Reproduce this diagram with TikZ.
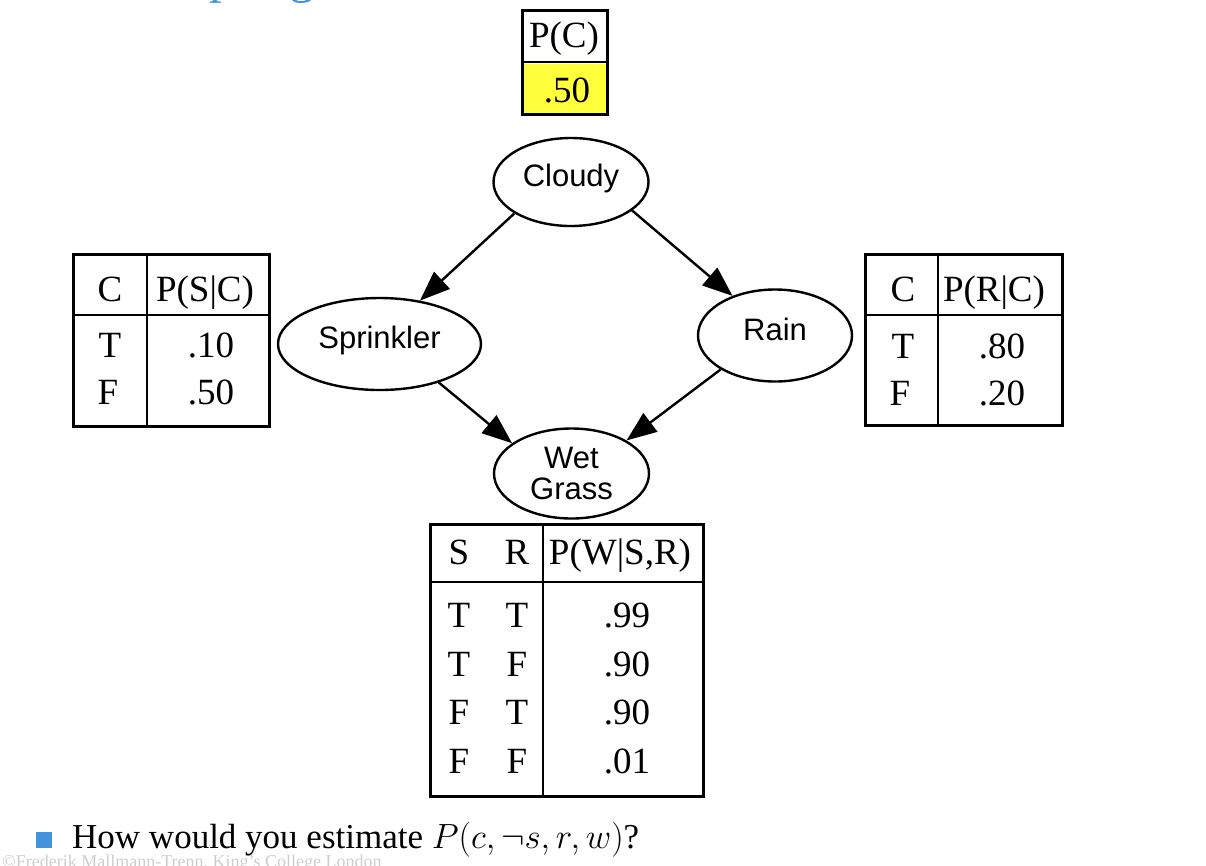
\RequirePackage{fix-cm}
\documentclass[tikz,border=0pt]{standalone}
\usepackage{fontspec}
\setmainfont{Liberation Serif}
\newfontfamily\helv{Liberation Sans}
\usetikzlibrary{arrows.meta,shapes.geometric}
\definecolor{titleblue}{RGB}{66,146,222}
\definecolor{cellyellow}{RGB}{255,255,60}
\definecolor{creditgray}{RGB}{205,205,205}

\begin{document}
\begin{tikzpicture}[x=1pt, y=-1pt,
    var/.style={draw, ellipse, line width=2.4pt, inner sep=0pt, align=center,
      font=\helv\fontsize{31}{31}\selectfont},
    oneline/.style={text height=22pt, text depth=13pt},
    edge/.style={line width=2.4pt, -{Triangle[length=30pt, width=23pt]}},
    frame/.style={line width=2.6pt},
    cell/.style={anchor=base, inner sep=0pt, font=\fontsize{37}{37}\selectfont}]
      \useasboundingbox (0,0) rectangle (1206,865);
      \clip (0,0) rectangle (1206,865);
      \node[anchor=base west, inner sep=0pt, text=titleblue, font=\fontsize{51}{51}\selectfont] (title) at (119,-8) {Sampling};

      \node[var, oneline, minimum width=155pt, minimum height=88pt] (cloudy) at (571,182) {Cloudy};
      \node[var, oneline, minimum width=203pt, minimum height=92pt] (sprinkler) at (379.5,344) {Sprinkler};
      \node[var, oneline, minimum width=154pt, minimum height=92pt] (rain) at (775,335.5) {Rain};
      \node[var, minimum width=155pt, minimum height=90pt] (wet) at (571.5,473.5) {Wet\\Grass};

      \draw[edge] (cloudy.209) -- (sprinkler.47);
      \draw[edge] (cloudy.-25) -- (rain.137);
      \draw[edge] (sprinkler.-33) -- (wet.153);
      \draw[edge] (rain.212) -- (wet.31);

      \fill[cellyellow] (524,64) rectangle (606,113);
      \draw[frame] (522.5,10.5) rectangle (607.5,114.5);
      \draw[frame] (522.5,62) -- (607.5,62);
      \node[cell] (pc) at (564,47) {P(C)};
      \node[cell] (pcval) at (567,102) {.50};

      \draw[frame] (73.5,254.5) rectangle (269.5,426.5);
      \draw[frame] (147,254.5) -- (147,426.5);
      \draw[frame] (73.5,315) -- (269.5,315);
      \node[cell] (sc) at (110,301) {C};
      \node[cell] (ps) at (205,301) {P(S|C)};
      \node[cell] (sct) at (110,357) {T};
      \node[cell] (pst) at (211,357) {.10};
      \node[cell] (scf) at (108,404) {F};
      \node[cell] (psf) at (211,404) {.50};

      \draw[frame] (865.5,254.5) rectangle (1062.5,425.5);
      \draw[frame] (938,254.5) -- (938,425.5);
      \draw[frame] (865.5,315) -- (1062.5,315);
      \node[cell] (rc) at (903,301) {C};
      \node[cell] (pr) at (994,301) {P(R|C)};
      \node[cell] (rct) at (903,358) {T};
      \node[cell] (prt) at (1002,358) {.80};
      \node[cell] (rcf) at (900,405) {F};
      \node[cell] (prf) at (1002,405) {.20};

      \draw[frame] (430.5,524.5) rectangle (703.5,796.5);
      \draw[frame] (543,524.5) -- (543,796.5);
      \draw[frame] (430.5,582) -- (703.5,582);
      \node[cell] (ws) at (459,564) {S};
      \node[cell] (wr) at (517,564) {R};
      \node[cell] (pw) at (620,564) {P(W|S,R)};
      \node[cell] (ws1) at (459,627) {T};
      \node[cell] (wr1) at (517,627) {T};
      \node[cell] (pw1) at (627,627) {.99};
      \node[cell] (ws2) at (459,676) {T};
      \node[cell] (wr2) at (517,676) {F};
      \node[cell] (pw2) at (627,676) {.90};
      \node[cell] (ws3) at (459,724) {F};
      \node[cell] (wr3) at (517,724) {T};
      \node[cell] (pw3) at (627,724) {.90};
      \node[cell] (ws4) at (459,773) {F};
      \node[cell] (wr4) at (517,773) {F};
      \node[cell] (pw4) at (627,773) {.01};

      \node[fill=titleblue, minimum size=16pt, inner sep=0pt] (bullet) at (44,840) {};
      \node[anchor=base west, inner sep=0pt, font=\fontsize{35}{35}\selectfont] (question) at (72,848) {How would you estimate $P(c, \neg s, r, w)$?};
      \node[anchor=base west, inner sep=0pt, text=creditgray, font=\fontsize{18}{18}\selectfont] (credit) at (2,867) {©Frederik Mallmann-Trenn, King’s College London};
    \end{tikzpicture}
\end{document}
